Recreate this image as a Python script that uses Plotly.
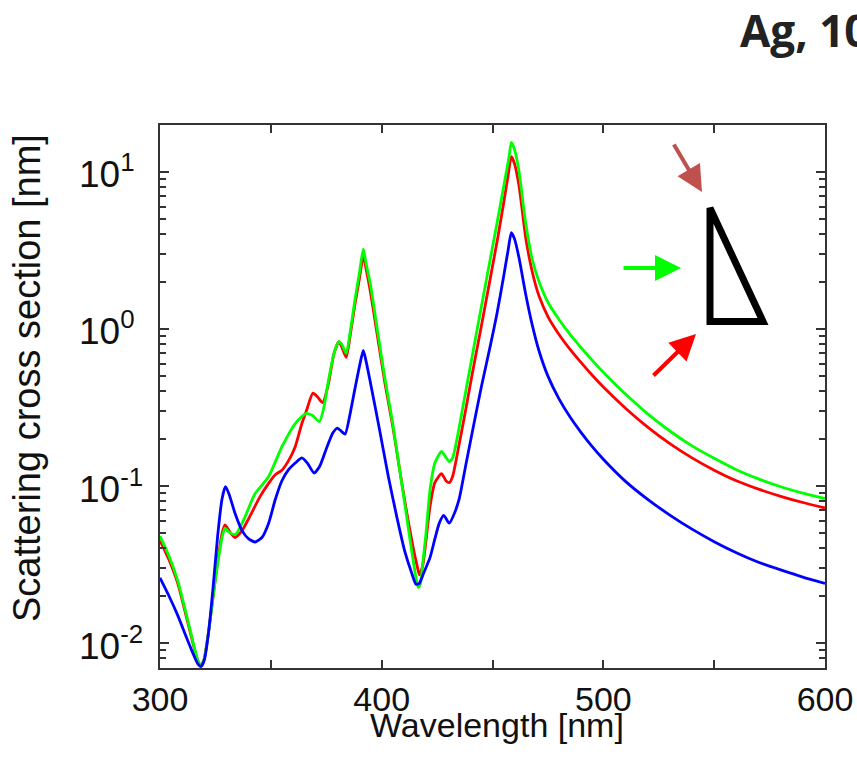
import math
import plotly.graph_objects as go

# Scattering cross section spectra (nm) for three illumination directions
wl_blue = [300, 304, 308, 312, 315, 317, 318.5, 320, 322, 324, 326, 328, 329.5, 331, 334, 337,
           340, 343, 346, 349, 352, 355, 358, 361, 364, 366.5, 369.5, 372, 375, 378, 380, 382,
           383.5, 386, 388, 390, 391.7, 393, 395, 399, 403, 407, 410.5, 413.5, 415.5, 417,
           419, 421.8, 424, 426, 428, 430.5, 433, 435, 438, 441, 445, 449, 452, 455, 457,
           458.5, 460, 462, 465, 468, 471, 475, 480, 485, 490, 495, 500, 510, 520, 530, 540,
           550, 560, 570, 580, 590, 600]
sigma_blue = [0.026, 0.020, 0.015, 0.0108, 0.0085, 0.0074, 0.0071, 0.0078, 0.012, 0.023, 0.048,
              0.083, 0.099, 0.090, 0.066, 0.052, 0.046, 0.044, 0.047, 0.058, 0.082, 0.108, 0.127,
              0.140, 0.151, 0.140, 0.121, 0.133, 0.172, 0.218, 0.234, 0.222, 0.214, 0.30, 0.42,
              0.58, 0.73, 0.62, 0.45, 0.23, 0.115, 0.062, 0.038, 0.028, 0.0237, 0.024, 0.028,
              0.035, 0.046, 0.058, 0.065, 0.058, 0.068, 0.083, 0.137, 0.225, 0.43, 0.78, 1.25,
              2.15, 3.15, 4.1, 3.72, 2.82, 1.66, 1.05, 0.724, 0.501, 0.359, 0.275, 0.219, 0.178,
              0.148, 0.107, 0.0822, 0.0653, 0.0531, 0.0442, 0.0376, 0.0327, 0.0292, 0.0263, 0.024]

wl_red = [300, 304, 308, 312, 315, 317, 318.5, 320, 322, 324, 326, 328, 329.3, 331.5, 333.8,
          337, 341, 345, 349, 352, 355, 358, 361, 364, 366, 369, 371, 373.4, 376, 378.5, 380.7,
          382, 384, 386, 388, 390, 391.7, 393, 395, 398, 401.5, 405, 408, 411, 414, 416, 417,
          418.5, 420, 421.8, 424, 427, 429, 430.5, 432, 435, 438, 441, 445, 449, 452.5, 455,
          457, 458.5, 460, 462, 465, 468, 471, 475, 480, 485, 490, 495, 500, 510, 520, 530,
          540, 550, 560, 570, 580, 590, 600]
sigma_red = [0.045, 0.034, 0.024, 0.0145, 0.0098, 0.0077, 0.0071, 0.0080, 0.012, 0.020, 0.033,
             0.050, 0.0565, 0.051, 0.047, 0.052, 0.066, 0.085, 0.104, 0.118, 0.126, 0.145,
             0.178, 0.25, 0.30, 0.39, 0.37, 0.34, 0.45, 0.70, 0.83, 0.77, 0.66, 0.95, 1.45,
             2.1, 2.92, 2.4, 1.7, 0.92, 0.45, 0.24, 0.13, 0.072, 0.042, 0.031, 0.0272, 0.031,
             0.045, 0.074, 0.105, 0.12, 0.108, 0.105, 0.115, 0.186, 0.31, 0.53, 1.05, 2.1,
             3.9, 6.3, 9.4, 12.5, 11.2, 8.1, 3.8, 2.29, 1.62, 1.20, 0.923, 0.741, 0.610,
             0.507, 0.427, 0.313, 0.237, 0.186, 0.151, 0.126, 0.108, 0.0955, 0.086, 0.0785,
             0.0724]

wl_green = [300, 304, 308, 312, 315, 317, 318.5, 320, 322, 324, 326, 328, 329.3, 331, 334, 338,
            342.8, 349, 355, 361, 366, 369, 371.9, 374, 376, 378.5, 380.7, 382, 384, 386, 388,
            390, 391.7, 393, 395, 398, 401.5, 405, 408, 411, 413.5, 415.5, 416.5, 417.5, 418.5,
            420, 421.8, 424, 427, 429, 430.5, 432, 434, 437, 440, 444, 448, 452, 454, 456,
            457.5, 458.5, 460, 462, 465, 468, 471, 475, 480, 485, 490, 495, 500, 510, 520, 530,
            540, 550, 560, 570, 580, 590, 600]
sigma_green = [0.048, 0.036, 0.025, 0.015, 0.0100, 0.0078, 0.0071, 0.0080, 0.012, 0.020, 0.032,
               0.047, 0.054, 0.051, 0.049, 0.062, 0.089, 0.115, 0.178, 0.25, 0.29, 0.28, 0.257,
               0.32, 0.47, 0.70, 0.83, 0.80, 0.70, 1.0, 1.55, 2.3, 3.22, 2.6, 1.9, 1.0, 0.48,
               0.25, 0.13, 0.068, 0.039, 0.026, 0.0226, 0.024, 0.032, 0.050, 0.094, 0.14, 0.166,
               0.152, 0.143, 0.151, 0.20, 0.34, 0.58, 1.17, 2.35, 4.7, 6.7, 9.6, 12.6, 15.4,
               13.8, 10.0, 4.7, 2.75, 2.0, 1.48, 1.15, 0.923, 0.759, 0.631, 0.531, 0.385, 0.288,
               0.224, 0.180, 0.150, 0.127, 0.111, 0.0989, 0.0902, 0.0832]

x_ticks = [300, 400, 500, 600]
y_ticks = [0.01, 0.1, 1, 10]
y_tick_text = ["10<sup>-2</sup>", "10<sup>-1</sup>", "10<sup>0</sup>", "10<sup>1</sup>"]
y_minor = [m * 10 ** e for e in (-3, -2, -1, 0, 1) for m in range(2, 10)]

SANS = "Liberation Sans, Arial, sans-serif"
INK = "#111111"
AXIS_COLOR = "#333333"

# plot-area geometry in pixels (used for placing the decorations)
W, H = 857, 766
L, R, T, B = 160, 32, 125, 98
PW, PH = W - L - R, H - T - B


def px(xp):
    return (xp - L) / PW


def py(yp):
    return (H - B - yp) / PH


fig = go.Figure()
for wl, sig, col in [(wl_red, sigma_red, "#ff0000"),
                     (wl_green, sigma_green, "#00ff00"),
                     (wl_blue, sigma_blue, "#0000ff")]:
    fig.add_trace(go.Scatter(x=wl, y=sig, mode="lines",
                             line=dict(color=col, width=2.8, shape="spline", smoothing=0.6),
                             showlegend=False, hoverinfo="skip"))

fig.update_layout(
    width=W, height=H,
    margin=dict(l=L, r=R, t=T, b=B, autoexpand=False),
    paper_bgcolor="white", plot_bgcolor="white",
    font=dict(family=SANS, color=INK),
    showlegend=False,
)

fig.update_xaxes(
    range=[300, 600], tickvals=x_ticks, ticktext=[str(v) for v in x_ticks],
    ticks="inside", ticklen=8, tickwidth=2, tickcolor=AXIS_COLOR,
    minor=dict(ticks="inside", ticklen=8, tickwidth=2, tickcolor=AXIS_COLOR, dtick=50, showgrid=False),
    showline=True, linecolor=AXIS_COLOR, linewidth=2, mirror="ticks",
    showgrid=False, zeroline=False,
    tickfont=dict(size=34, family=SANS, color=INK),
)

fig.update_yaxes(
    type="log", range=[-2.159, 1.299], tickvals=y_ticks, showticklabels=False,
    ticks="inside", ticklen=9, tickwidth=2, tickcolor=AXIS_COLOR,
    minor=dict(ticks="inside", ticklen=6, tickwidth=1.5, tickcolor=AXIS_COLOR,
               tickvals=y_minor, showgrid=False),
    showline=True, linecolor=AXIS_COLOR, linewidth=2, mirror="ticks",
    showgrid=False, zeroline=False,
)

# decade labels, with the mantissa "10" left-aligned in one column
for v, txt in zip(y_ticks, y_tick_text):
    fig.add_annotation(text=txt, xref="paper", yref="y", x=px(77), y=math.log10(v),
                       showarrow=False, xanchor="left", yanchor="middle",
                       font=dict(size=37, family=SANS, color=INK))

# axis titles
fig.add_annotation(text="Wavelength [nm]", xref="paper", yref="paper",
                   x=px(497), y=py(725), showarrow=False,
                   font=dict(size=34, family=SANS, color=INK),
                   xanchor="center", yanchor="middle")
fig.add_annotation(text="Scattering cross section [nm]", xref="paper", yref="paper",
                   x=px(27), y=py(378), showarrow=False, textangle=-90,
                   font=dict(size=38, family=SANS, color=INK),
                   xanchor="center", yanchor="middle")

# panel heading
fig.add_annotation(text="Ag, 10 nm", xref="paper", yref="paper",
                   x=px(738), y=py(30), showarrow=False,
                   font=dict(size=44, family="Open Sans", color="#222222", weight="bold"),
                   xanchor="left", yanchor="middle")

# inset: triangular particle with incidence arrows
fig.add_shape(type="path", xref="paper", yref="paper",
              path=f"M {px(710)} {py(208)} L {px(710)} {py(321.5)} L {px(763)} {py(321.5)} Z",
              line=dict(color="black", width=7), fillcolor="rgba(0,0,0,0)")

for (tip, tail, col) in [((702, 192), (673, 143), "#c0504d"),
                         ((681, 268), (622, 268), "#00ff00"),
                         ((696, 334), (652, 377), "#ff0000")]:
    fig.add_annotation(x=px(tip[0]), y=py(tip[1]), xref="paper", yref="paper",
                       ax=tail[0] - tip[0], ay=tail[1] - tip[1],
                       showarrow=True, arrowhead=2, arrowsize=1.3, arrowwidth=4,
                       arrowcolor=col, text="")

fig.write_html("out.html")
